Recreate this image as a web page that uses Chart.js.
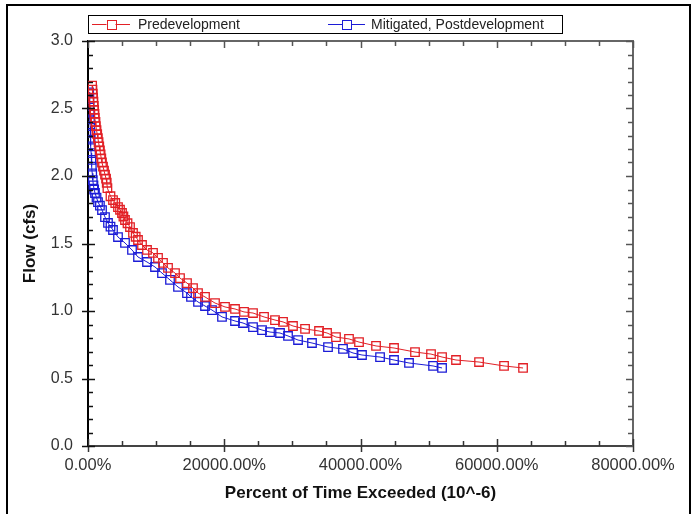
<!DOCTYPE html>
<html>
<head>
<meta charset="utf-8">
<script src="https://cdn.jsdelivr.net/npm/chart.js@4"></script>
<style>
  html, body { margin: 0; padding: 0; background: #fff; }
  #wrap { position: absolute; left: 0; top: 0; width: 694px; height: 514px; }
</style>
</head>
<body>
<div id="wrap"><canvas id="c" width="694" height="514"></canvas></div>
<script>
// ---- Data ----
const seriesNames = ['Predevelopment', 'Mitigated, Postdevelopment'];

const predevX = [600,650,700,750,800,850,900,950,1000,1100,1150,1250,1350,1450,1550,1650,1750,1850,1950,2050,2200,2350,2500,2650,2750,2850,
  3300,3670,4000,4404,4700,4991,5200,5432,5800,6166,6606,7000,7340,7927,8661,9542,10276,11010,11744,12772,13506,14533,15414,16148,
  17176,18644,20112,21580,22901,24222,25840,27450,28630,30090,31860,33910,35090,36400,38310,39780,42280,44920,48000,50350,51970,
  54020,57400,61070,63860];
const predevFlow = [2.67,2.64,2.61,2.58,2.55,2.52,2.49,2.46,2.43,2.40,2.37,2.34,2.31,2.28,2.25,2.22,2.19,2.16,2.13,2.10,2.07,2.04,2.01,1.98,1.95,1.91,
  1.85,1.822,1.80,1.770,1.75,1.726,1.70,1.674,1.65,1.622,1.578,1.55,1.526,1.489,1.452,1.430,1.393,1.356,1.319,1.281,1.244,1.207,1.170,1.133,
  1.104,1.059,1.030,1.015,0.993,0.985,0.956,0.933,0.919,0.889,0.867,0.852,0.837,0.807,0.793,0.770,0.741,0.726,0.696,0.681,0.659,
  0.637,0.622,0.593,0.578];

const mitigX = [150,200,230,260,290,320,350,380,420,460,500,560,620,700,800,900,1028,1250,1468,1750,2055,2496,2936,3300,3670,4404,
  5432,6459,7340,8661,9836,10863,12038,13212,14533,15120,16148,17176,18203,19671,21580,22754,24222,25543,26718,28186,29360,
  30830,32880,35230,37430,38900,40220,42870,44920,47120,50650,51970];
const mitigFlow = [2.62,2.57,2.52,2.47,2.42,2.37,2.32,2.27,2.22,2.17,2.12,2.07,2.02,1.97,1.93,1.90,1.874,1.84,1.807,1.78,1.748,1.696,1.652,1.625,1.600,1.548,
  1.504,1.452,1.400,1.363,1.326,1.281,1.230,1.178,1.133,1.104,1.067,1.037,1.007,0.956,0.926,0.911,0.881,0.859,0.844,0.837,0.815,
  0.785,0.763,0.733,0.719,0.689,0.674,0.659,0.637,0.615,0.593,0.578];

const xTickValues = [0, 20000, 40000, 60000, 80000];
const yTickValues = [0.0, 0.5, 1.0, 1.5, 2.0, 2.5, 3.0];
const xMinorStep = 5000;
const yMinorStep = 0.1;

const RED = 'rgb(226,32,38)';
const BLUE = 'rgb(28,28,214)';

const toPts = (xs, ys) => xs.map((v, i) => ({ x: v, y: ys[i] }));

// ---- plugin: outer frame, top/right axes, ticks, legend box ----
const decor = {
  id: 'decor',
  beforeDraw(chart) {
    const ctx = chart.ctx;
    ctx.save();
    ctx.fillStyle = '#fff';
    ctx.fillRect(0, 0, chart.width, chart.height);
    ctx.restore();
  },
  afterDraw(chart) {
    const { ctx, chartArea: a, scales: { x, y } } = chart;
    ctx.save();
    // outer frame
    ctx.strokeStyle = '#000';
    ctx.lineWidth = 2;
    ctx.beginPath();
    ctx.moveTo(7, 520); ctx.lineTo(7, 5); ctx.lineTo(690, 5); ctx.lineTo(690, 520);
    ctx.stroke();

    // top & right axis lines
    ctx.strokeStyle = '#666';
    ctx.lineWidth = 2;
    ctx.beginPath();
    ctx.moveTo(a.left, a.top); ctx.lineTo(a.right, a.top); ctx.lineTo(a.right, a.bottom);
    ctx.stroke();

    // ticks
    ctx.lineWidth = 1.5;
    const xmin = x.min, xmax = x.max;
    for (let v = xmin; v <= xmax + 1e-6; v += xMinorStep) {
      const px = Math.round(x.getPixelForValue(v)) + 0.5;
      const major = xTickValues.includes(v);
      ctx.strokeStyle = '#333';
      ctx.beginPath();
      if (major) { ctx.moveTo(px, a.bottom + 6); ctx.lineTo(px, a.bottom - 7); }
      else { ctx.moveTo(px, a.bottom); ctx.lineTo(px, a.bottom - 5); }
      ctx.stroke();
      ctx.strokeStyle = '#555';
      ctx.beginPath();
      ctx.moveTo(px, a.top); ctx.lineTo(px, a.top + (major ? 7 : 5));
      ctx.stroke();
    }
    const steps = Math.round((y.max - y.min) / yMinorStep);
    for (let i = 0; i <= steps; i++) {
      const v = +(y.min + i * yMinorStep).toFixed(2);
      const py = Math.round(y.getPixelForValue(v)) + 0.5;
      const major = yTickValues.includes(v);
      ctx.strokeStyle = '#111';
      ctx.beginPath();
      if (major) { ctx.moveTo(a.left - 6, py); ctx.lineTo(a.left + 7, py); }
      else { ctx.moveTo(a.left, py); ctx.lineTo(a.left + 5, py); }
      ctx.stroke();
      ctx.strokeStyle = '#555';
      ctx.beginPath();
      ctx.moveTo(a.right, py); ctx.lineTo(a.right - (major ? 7 : 5), py);
      ctx.stroke();
    }

    // legend
    const lx = a.left, ly = 15, lw = 474, lh = 18;
    ctx.strokeStyle = '#000';
    ctx.lineWidth = 1;
    ctx.strokeRect(lx + 0.5, ly + 0.5, lw, lh);
    const items = [
      { color: RED, label: seriesNames[0], x0: 92, x1: 130, tx: 138 },
      { color: BLUE, label: seriesNames[1], x0: 328, x1: 365, tx: 371 }
    ];
    const cy = ly + lh / 2 + 0.5;
    ctx.font = '14px "Liberation Sans", Arial, sans-serif';
    ctx.textBaseline = 'middle';
    ctx.textAlign = 'left';
    items.forEach(it => {
      ctx.strokeStyle = it.color;
      ctx.lineWidth = 1;
      ctx.beginPath(); ctx.moveTo(it.x0, cy); ctx.lineTo(it.x1, cy); ctx.stroke();
      const mx = (it.x0 + it.x1) / 2;
      ctx.fillStyle = '#fff';
      ctx.fillRect(mx - 4.5, cy - 4.5, 9, 9);
      ctx.strokeRect(Math.round(mx - 4.5) + 0.5, Math.round(cy - 4.5) + 0.5, 9, 9);
      ctx.fillStyle = '#222';
      ctx.fillText(it.label, it.tx, cy + 1);
    });
    ctx.restore();
  }
};

new Chart(document.getElementById('c'), {
  type: 'scatter',
  data: {
    datasets: [
      {
        label: seriesNames[0],
        data: toPts(predevX, predevFlow),
        showLine: true,
        borderColor: RED,
        borderWidth: 1,
        backgroundColor: 'rgba(0,0,0,0)',
        pointStyle: 'rect',
        pointRadius: 6,
        pointBorderWidth: 1.3,
        pointBorderColor: RED,
        pointBackgroundColor: 'rgba(0,0,0,0)'
      },
      {
        label: seriesNames[1],
        data: toPts(mitigX, mitigFlow),
        showLine: true,
        borderColor: BLUE,
        borderWidth: 1,
        backgroundColor: 'rgba(0,0,0,0)',
        pointStyle: 'rect',
        pointRadius: 6,
        pointBorderWidth: 1.3,
        pointBorderColor: BLUE,
        pointBackgroundColor: 'rgba(0,0,0,0)'
      }
    ]
  },
  options: {
    responsive: false,
    animation: false,
    layout: { padding: { left: 0, right: 61, top: 41, bottom: 0 } },
    plugins: { legend: { display: false }, tooltip: { enabled: false } },
    scales: {
      x: {
        type: 'linear',
        min: 0, max: 80000,
        afterFit(s) { s.height = 68; },
        afterBuildTicks(s) { s.ticks = xTickValues.map(v => ({ value: v })); },
        grid: { display: false, drawTicks: false },
        border: { display: true, color: '#444', width: 2 },
        ticks: {
          padding: 10,
          color: '#333',
          font: { family: '"Liberation Sans", Arial, sans-serif', size: 16.5 },
          maxRotation: 0,
          callback: v => v.toFixed(2) + '%'
        },
        title: {
          display: true,
          text: 'Percent of Time Exceeded (10^-6)',
          color: '#111',
          font: { family: '"Liberation Sans", Arial, sans-serif', size: 17, weight: 'bold' },
          padding: { top: 0, bottom: 10 }
        }
      },
      y: {
        type: 'linear',
        min: 0, max: 3,
        afterFit(s) { s.width = 88; },
        afterBuildTicks(s) { s.ticks = yTickValues.map(v => ({ value: v })); },
        grid: { display: false, drawTicks: false },
        border: { display: true, color: '#000', width: 2 },
        ticks: {
          padding: 15,
          color: '#333',
          font: { family: '"Liberation Sans", Arial, sans-serif', size: 16 },
          callback: v => v.toFixed(1)
        },
        title: {
          display: true,
          text: 'Flow (cfs)',
          color: '#111',
          font: { family: '"Liberation Sans", Arial, sans-serif', size: 17, weight: 'bold' },
          padding: { top: 20, bottom: 0 }
        }
      }
    }
  },
  plugins: [decor]
});
</script>
</body>
</html>
